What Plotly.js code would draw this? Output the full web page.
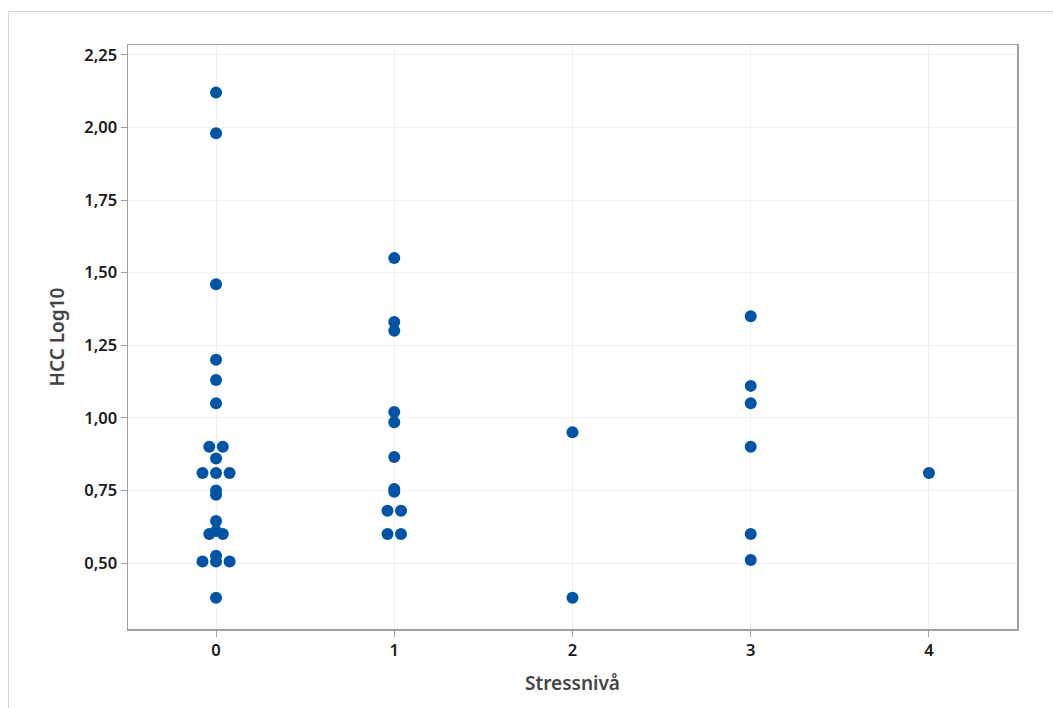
<!DOCTYPE html>
<html>
<head>
<meta charset="utf-8">
<script src="https://cdn.plot.ly/plotly-3.0.1.min.js"></script>
<style>
  html, body { margin: 0; padding: 0; background: #fff; }
  #frame { position: absolute; left: 8px; top: 11px; width: 1100px; height: 760px;
           border-left: 1px solid #d6d6d6; border-top: 1px solid #d6d6d6; }
  #chart { position: absolute; left: 0; top: 0; width: 1053px; height: 708px; }
</style>
</head>
<body>
<div id="frame"></div>
<div id="chart"></div>
<script>
// Stress level (x) and HCC Log10 (y)
const stress0 = [2.12, 1.98, 1.46, 1.20, 1.13, 1.05, 0.90, 0.90, 0.86, 0.81, 0.81, 0.81,
                 0.75, 0.735, 0.645, 0.60, 0.60, 0.61, 0.525, 0.505, 0.505, 0.505, 0.38];
const stress1 = [1.55, 1.33, 1.30, 1.02, 0.985, 0.865, 0.755, 0.745, 0.68, 0.68, 0.60, 0.60];
const stress2 = [0.95, 0.38];
const stress3 = [1.35, 1.11, 1.05, 0.90, 0.60, 0.51];
const stress4 = [0.81];
const levels = [0, 1, 2, 3, 4];
const groups = [stress0, stress1, stress2, stress3, stress4];

// Dodge identical values side by side (like an individual value plot)
const step = 0.076;
const xs = [], ys = [];
groups.forEach((vals, gi) => {
  const counts = {};
  vals.forEach(v => { counts[v] = (counts[v] || 0) + 1; });
  const seen = {};
  vals.forEach(v => {
    const n = counts[v];
    const i = seen[v] || 0;
    seen[v] = i + 1;
    xs.push(levels[gi] + (i - (n - 1) / 2) * step);
    ys.push(v);
  });
});

const trace = {
  type: 'scatter', mode: 'markers', x: xs, y: ys,
  marker: { color: '#0054A6', size: 12, line: { width: 0 } },
  hoverinfo: 'x+y'
};

const layout = {
  width: 1053, height: 708,
  margin: { l: 128, r: 36, t: 45, b: 79 },
  paper_bgcolor: 'rgba(0,0,0,0)', plot_bgcolor: '#ffffff',
  separators: ',.',
  font: { family: 'Noto Sans, Open Sans, sans-serif', color: '#222' },
  showlegend: false,
  xaxis: {
    range: [-0.494, 4.494], tickmode: 'array', tickvals: levels,
    ticktext: levels.map(String),
    showgrid: true, gridcolor: '#f0f0f0', gridwidth: 1,
    zeroline: false, showline: true, linecolor: '#a0a0a0', linewidth: 1.5, mirror: true,
    ticks: 'outside', ticklen: 6, tickcolor: '#a0a0a0', tickwidth: 1,
    tickfont: { size: 16.5, color: '#1a1a1a', weight: 600 },
    title: { text: 'Stressnivå', font: { size: 19, color: '#444', weight: 600 }, standoff: 16 }
  },
  yaxis: {
    range: [0.2727, 2.284], tick0: 0.5, dtick: 0.25, tickformat: '.2f',
    showgrid: true, gridcolor: '#f0f0f0', gridwidth: 1,
    zeroline: false, showline: true, linecolor: '#a0a0a0', linewidth: 1.5, mirror: true,
    ticks: 'outside', ticklen: 6, tickcolor: '#a0a0a0', tickwidth: 1,
    tickfont: { size: 16.5, color: '#1a1a1a', weight: 600 },
    title: { text: 'HCC Log10', font: { size: 19, color: '#444', weight: 600 }, standoff: 14 }
  }
};

Plotly.newPlot('chart', [trace], layout, { displayModeBar: false, staticPlot: true });
</script>
</body>
</html>
